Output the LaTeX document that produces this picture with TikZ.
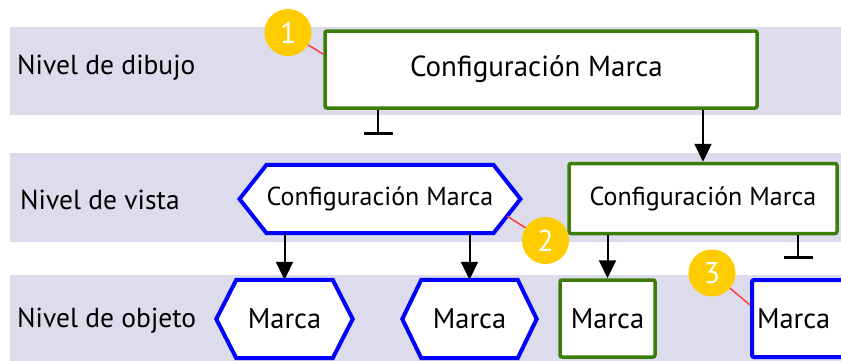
\documentclass[tikz,border=0pt]{standalone}
\usepackage{fontspec}
\setmainfont{PT Sans}
\usetikzlibrary{arrows.meta,calc,backgrounds}
\definecolor{bandc}{RGB}{220,220,236}
\definecolor{gcol}{RGB}{60,125,10}
\definecolor{bcol}{RGB}{0,0,255}
\definecolor{ycol}{RGB}{255,204,0}
\definecolor{rcol}{RGB}{255,60,60}
\tikzset{
  gbox/.style={draw=gcol,line width=3.5pt,fill=white,rounded corners=2pt,inner sep=0pt},
  bbox/.style={draw=bcol,line width=4pt,fill=white,rounded corners=2pt,inner sep=0pt},
  hexin/.style={inner sep=0pt},
  hexline/.style={draw=bcol,line width=4pt,fill=white,line join=miter},
  lvl/.style={anchor=west,inner sep=0pt,font=\fontsize{27.5}{30}\selectfont},
  bigtxt/.style={font=\fontsize{29}{32}\selectfont},
  midtxt/.style={font=\fontsize{26}{30}\selectfont},
  mtxt/.style={font=\fontsize{28.5}{30}\selectfont},
  badge/.style={circle,fill=ycol,minimum size=47pt,inner sep=0pt,text=white,font=\fontsize{30}{32}\selectfont},
  redline/.style={draw=rcol,line width=1.5pt},
  arr/.style={draw=black,line width=2pt,-{Triangle[length=18pt,width=17pt]}},
  inh/.style={draw=black,line width=2pt,-{Bar[width=29pt,line width=3.5pt]}},
}
\begin{document}
\begin{tikzpicture}[x=1pt,y=-1pt]
\useasboundingbox (0,0) rectangle (841,360);
\clip (0,0) rectangle (841,360);
% bands
\begin{scope}[on background layer]
\fill[bandc] (10,27) rectangle (841,115);
\fill[bandc] (10,153) rectangle (841,242);
\fill[bandc] (10,275) rectangle (841,362);
\end{scope}
% level labels
\node[lvl] (l1) at (17,68) {Nivel de dibujo};
\node[lvl] (l2) at (20,200) {Nivel de vista};
\node[lvl] (l3) at (17,321) {Nivel de objeto};
% drawing level
\node[gbox,bigtxt,minimum width=432pt,minimum height=77pt] (cfgD) at (541,69.5) {\hspace*{-9pt}Configuración Marca};
% view level
\node[hexin,midtxt,minimum width=226pt,minimum height=68pt] (hexV) at (380,199) {Configuración Marca};
\node[gbox,midtxt,minimum width=268pt,minimum height=70pt] (cfgV) at (703,198.5) {Configuración Marca};
% object level
\node[hexin,mtxt,minimum width=96pt,minimum height=78pt] (o1) at (284.5,319) {Marca};
\node[hexin,mtxt,minimum width=96pt,minimum height=78pt] (o2) at (469.5,319) {Marca};
\node[gbox,mtxt,minimum width=95pt,minimum height=77pt] (mG) at (607.5,318.5) {Marca};
\node[bbox,mtxt,minimum width=100pt,minimum height=77pt,text width=90pt,align=left] (mB) at (802,318.5) {Marca};
% hexagon outlines
\coordinate (hexVl) at ($(hexV.west)+(-27,0)$);
\coordinate (hexVr) at ($(hexV.east)+(27,0)$);
\coordinate (o1l) at ($(o1.west)+(-20,0)$);
\coordinate (o1r) at ($(o1.east)+(20,0)$);
\coordinate (o2l) at ($(o2.west)+(-19,0)$);
\coordinate (o2r) at ($(o2.east)+(19,0)$);
\begin{scope}[on background layer]
\path[hexline] (hexV.north west) -- (hexV.north east) -- (hexVr) -- (hexV.south east) -- (hexV.south west) -- (hexVl) -- cycle;
\path[hexline] (o1.north west) -- (o1.north east) -- (o1r) -- (o1.south east) -- (o1.south west) -- (o1l) -- cycle;
\path[hexline] (o2.north west) -- (o2.north east) -- (o2r) -- (o2.south east) -- (o2.south west) -- (o2l) -- cycle;
\end{scope}
% connectors
\draw[arr] (cfgD.south -| cfgV.north) -- (cfgV.north);
\draw[arr] (hexV.south -| o1.north) -- (o1.north);
\draw[arr] (hexV.south -| o2.north) -- (o2.north);
\draw[arr] (cfgV.south -| mG.north) -- (mG.north);
\coordinate (t1) at (378,135);
\coordinate (t2) at (798,259);
\draw[inh] (cfgD.south -| t1) -- (t1);
\draw[inh] (cfgV.south -| t2) -- (t2);
% badges
\coordinate (p1) at ($(cfgD.north west)+(0,25)$);
\coordinate (p2) at ($(hexVr)!0.5!(hexV.south east)$);
\coordinate (p3) at ($(mB.north west)+(0,27)$);
\node[badge] (b1) at (288,32.5) {1};
\node[badge] (b2) at (545.5,240.5) {2};
\node[badge] (b3) at (712,273) {3};
\draw[redline] (p1) -- (b1);
\draw[redline] (p2) -- (b2);
\draw[redline] (p3) -- (b3);
\end{tikzpicture}
\end{document}
